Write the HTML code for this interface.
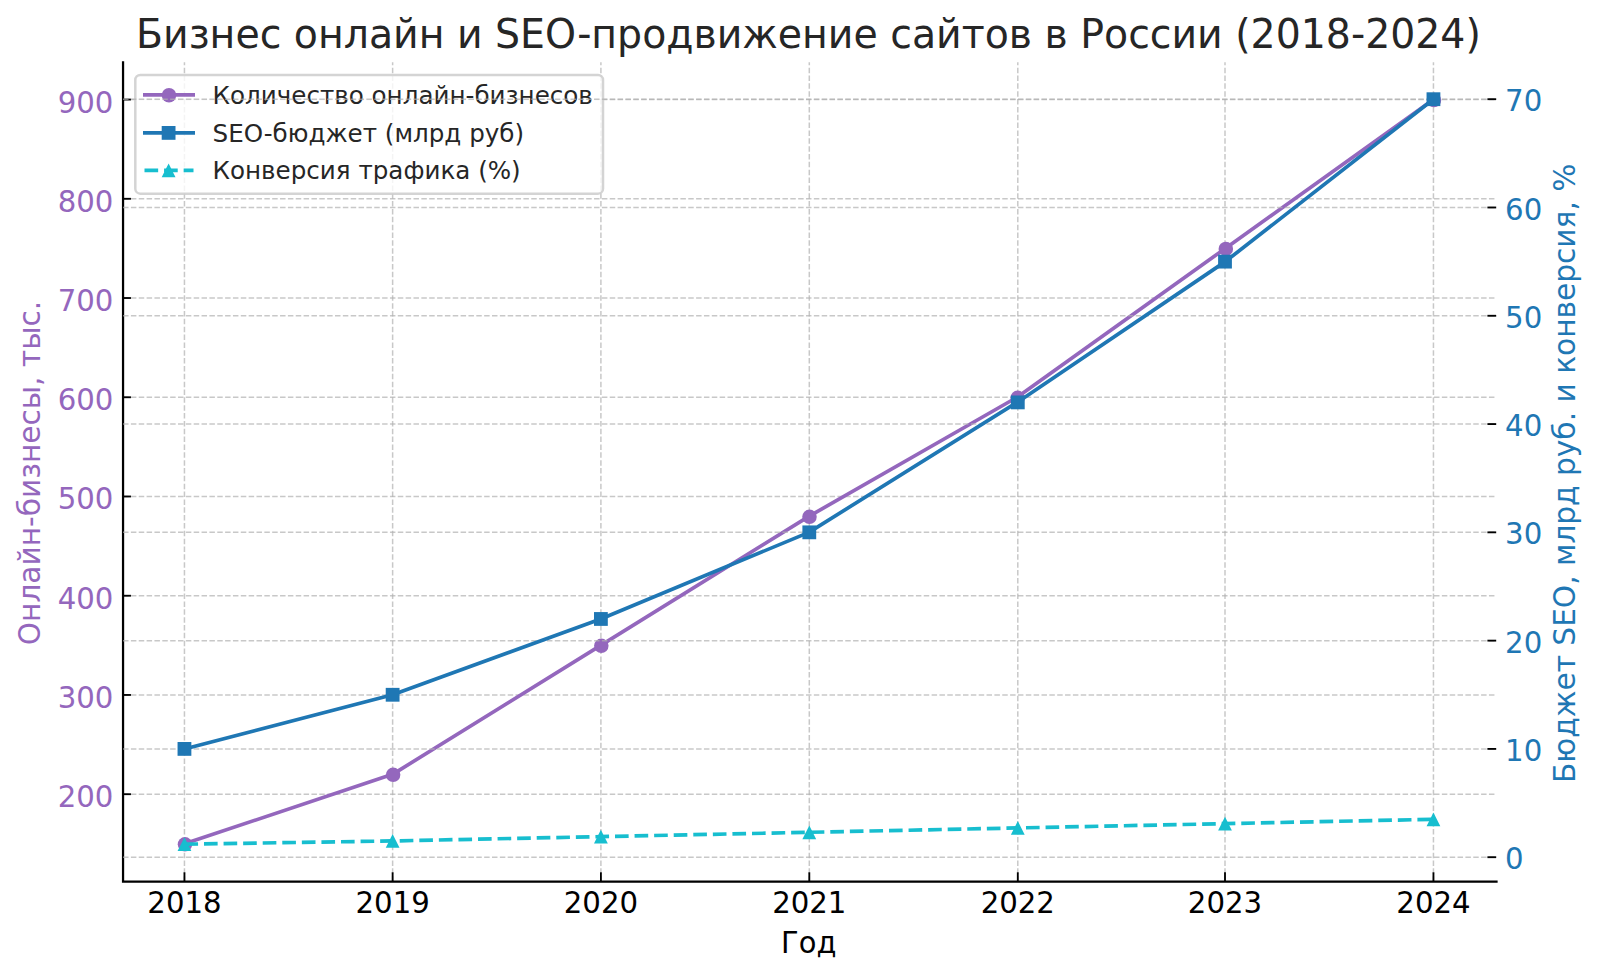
<!DOCTYPE html>
<html lang="ru"><head><meta charset="utf-8"><title>Бизнес онлайн и SEO-продвижение сайтов в России (2018-2024)</title>
<style>
html,body{margin:0;padding:0;background:#fff;}
body{width:1600px;height:976px;overflow:hidden;}
svg{display:block;}
text{font-family:"DejaVu Sans","Liberation Sans",sans-serif;}
</style></head><body>
<svg width="1600" height="976" viewBox="0 0 1600 976">
<rect width="1600" height="976" fill="#ffffff"/>
<!-- ax1 grid -->
<g stroke="#b0b0b0" stroke-opacity="0.7" stroke-width="1.5" stroke-dasharray="5.48 2.37" fill="none">
<line x1="184.45" y1="881.7" x2="184.45" y2="62.3"/>
<line x1="392.63" y1="881.7" x2="392.63" y2="62.3"/>
<line x1="600.90" y1="881.7" x2="600.90" y2="62.3"/>
<line x1="809.30" y1="881.7" x2="809.30" y2="62.3"/>
<line x1="1017.80" y1="881.7" x2="1017.80" y2="62.3"/>
<line x1="1225.00" y1="881.7" x2="1225.00" y2="62.3"/>
<line x1="1433.45" y1="881.7" x2="1433.45" y2="62.3"/>
<line x1="123.05" y1="794.20" x2="1496.5" y2="794.20"/>
<line x1="123.05" y1="694.96" x2="1496.5" y2="694.96"/>
<line x1="123.05" y1="595.73" x2="1496.5" y2="595.73"/>
<line x1="123.05" y1="496.49" x2="1496.5" y2="496.49"/>
<line x1="123.05" y1="397.26" x2="1496.5" y2="397.26"/>
<line x1="123.05" y1="298.02" x2="1496.5" y2="298.02"/>
<line x1="123.05" y1="198.79" x2="1496.5" y2="198.79"/>
<line x1="123.05" y1="99.55" x2="1496.5" y2="99.55"/>
</g>
<!-- ax1 series -->
<polyline points="184.42,843.82 392.59,774.35 600.76,645.35 808.93,516.34 1017.10,397.26 1225.27,248.40 1433.44,99.55" fill="none" stroke="#9467bd" stroke-width="3.68" stroke-linejoin="round"/>
<circle cx="184.97" cy="844.32" r="7.25" fill="#9467bd"/>
<circle cx="393.14" cy="774.85" r="7.25" fill="#9467bd"/>
<circle cx="601.31" cy="645.85" r="7.25" fill="#9467bd"/>
<circle cx="809.48" cy="516.84" r="7.25" fill="#9467bd"/>
<circle cx="1017.65" cy="397.76" r="7.25" fill="#9467bd"/>
<circle cx="1225.82" cy="248.90" r="7.25" fill="#9467bd"/>
<circle cx="1433.99" cy="100.05" r="7.25" fill="#9467bd"/>
<!-- ax1 spines, ticks -->
<path d="M123.05 62.3 L123.05 881.7 L1496.5 881.7" fill="none" stroke="#000" stroke-width="2.25" stroke-linecap="square" stroke-linejoin="miter"/>
<g stroke="#000" stroke-width="1.85">
<line x1="184.45" y1="881.7" x2="184.45" y2="872.3000000000001"/>
<line x1="392.63" y1="881.7" x2="392.63" y2="872.3000000000001"/>
<line x1="600.90" y1="881.7" x2="600.90" y2="872.3000000000001"/>
<line x1="809.30" y1="881.7" x2="809.30" y2="872.3000000000001"/>
<line x1="1017.80" y1="881.7" x2="1017.80" y2="872.3000000000001"/>
<line x1="1225.00" y1="881.7" x2="1225.00" y2="872.3000000000001"/>
<line x1="1433.45" y1="881.7" x2="1433.45" y2="872.3000000000001"/>
<line x1="123.05" y1="794.20" x2="130.95" y2="794.20"/>
<line x1="123.05" y1="694.96" x2="130.95" y2="694.96"/>
<line x1="123.05" y1="595.73" x2="130.95" y2="595.73"/>
<line x1="123.05" y1="496.49" x2="130.95" y2="496.49"/>
<line x1="123.05" y1="397.26" x2="130.95" y2="397.26"/>
<line x1="123.05" y1="298.02" x2="130.95" y2="298.02"/>
<line x1="123.05" y1="198.79" x2="130.95" y2="198.79"/>
<line x1="123.05" y1="99.55" x2="130.95" y2="99.55"/>
</g>
<!-- ax1 labels -->
<text transform="translate(184.45 913.30) scale(1.0 1.02)" font-size="29.2" fill="#000" text-anchor="middle">2018</text>
<text transform="translate(392.63 913.30) scale(1.0 1.02)" font-size="29.2" fill="#000" text-anchor="middle">2019</text>
<text transform="translate(600.90 913.30) scale(1.0 1.02)" font-size="29.2" fill="#000" text-anchor="middle">2020</text>
<text transform="translate(809.30 913.30) scale(1.0 1.02)" font-size="29.2" fill="#000" text-anchor="middle">2021</text>
<text transform="translate(1017.80 913.30) scale(1.0 1.02)" font-size="29.2" fill="#000" text-anchor="middle">2022</text>
<text transform="translate(1225.00 913.30) scale(1.0 1.02)" font-size="29.2" fill="#000" text-anchor="middle">2023</text>
<text transform="translate(1433.45 913.30) scale(1.0 1.02)" font-size="29.2" fill="#000" text-anchor="middle">2024</text>
<text transform="translate(113.40 807.20) scale(1.0 1.045)" font-size="29.2" fill="#9467bd" text-anchor="end">200</text>
<text transform="translate(113.40 707.96) scale(1.0 1.045)" font-size="29.2" fill="#9467bd" text-anchor="end">300</text>
<text transform="translate(113.40 608.73) scale(1.0 1.045)" font-size="29.2" fill="#9467bd" text-anchor="end">400</text>
<text transform="translate(113.40 509.49) scale(1.0 1.045)" font-size="29.2" fill="#9467bd" text-anchor="end">500</text>
<text transform="translate(113.40 410.26) scale(1.0 1.045)" font-size="29.2" fill="#9467bd" text-anchor="end">600</text>
<text transform="translate(113.40 311.02) scale(1.0 1.045)" font-size="29.2" fill="#9467bd" text-anchor="end">700</text>
<text transform="translate(113.40 211.79) scale(1.0 1.045)" font-size="29.2" fill="#9467bd" text-anchor="end">800</text>
<text transform="translate(113.40 112.55) scale(1.0 1.045)" font-size="29.2" fill="#9467bd" text-anchor="end">900</text>
<text transform="translate(808.80 953.00) scale(1.0 1.049)" font-size="28.95" fill="#000" text-anchor="middle">Год</text>
<text transform="translate(40.10 473.00) rotate(-90) scale(1.0 1.04)" font-size="29.6" fill="#9467bd" text-anchor="middle">Онлайн-бизнесы, тыс.</text>
<text transform="translate(808.40 48.40) scale(1.0 1.032)" font-size="39.42" fill="#262626" text-anchor="middle">Бизнес онлайн и SEO-продвижение сайтов в России (2018-2024)</text>
<!-- legend -->
<rect x="135.3" y="75.0" width="467.70" height="118.70" rx="5" ry="5" fill="#ffffff" fill-opacity="0.8" stroke="#cccccc" stroke-opacity="0.85" stroke-width="2.5"/>
<line x1="143.0" y1="94.8" x2="195.0" y2="94.8" stroke="#9467bd" stroke-width="3.68"/>
<circle cx="169.0" cy="95.25" r="7.25" fill="#9467bd"/>
<line x1="143.0" y1="132.9" x2="195.0" y2="132.9" stroke="#1f77b4" stroke-width="3.68"/>
<rect x="161.7" y="126.0" width="13.8" height="13.8" fill="#1f77b4"/>
<line x1="144.5" y1="170.3" x2="193.5" y2="170.3" stroke="#17becf" stroke-width="3.68" stroke-dasharray="13.65 5.925"/>
<path d="M168.60 163.40 L175.50 177.20 L161.70 177.20 Z" fill="#17becf"/>
<text transform="translate(212.55 103.60) scale(1.0 0.993)" font-size="24.6" fill="#262626" text-anchor="start">Количество онлайн-бизнесов</text>
<text transform="translate(212.55 141.70) scale(1.0 0.993)" font-size="24.6" fill="#262626" text-anchor="start">SEO-бюджет (млрд руб)</text>
<text transform="translate(212.55 179.10) scale(1.0 0.993)" font-size="24.6" fill="#262626" text-anchor="start">Конверсия трафика (%)</text>
<!-- ax2 grid -->
<g stroke="#b0b0b0" stroke-opacity="0.7" stroke-width="1.5" stroke-dasharray="5.48 2.37" fill="none">
<line x1="123.05" y1="857.20" x2="1496.5" y2="857.20"/>
<line x1="123.05" y1="748.91" x2="1496.5" y2="748.91"/>
<line x1="123.05" y1="640.63" x2="1496.5" y2="640.63"/>
<line x1="123.05" y1="532.34" x2="1496.5" y2="532.34"/>
<line x1="123.05" y1="424.06" x2="1496.5" y2="424.06"/>
<line x1="123.05" y1="315.77" x2="1496.5" y2="315.77"/>
<line x1="123.05" y1="207.49" x2="1496.5" y2="207.49"/>
<line x1="123.05" y1="99.20" x2="1496.5" y2="99.20"/>
</g>
<!-- ax2 series -->
<polyline points="184.42,748.91 392.59,694.77 600.76,618.97 808.93,532.34 1017.10,402.40 1225.27,261.63 1433.44,99.20" fill="none" stroke="#1f77b4" stroke-width="3.68" stroke-linejoin="round"/>
<rect x="177.55" y="742.01" width="13.8" height="13.8" fill="#1f77b4"/>
<rect x="385.73" y="687.87" width="13.8" height="13.8" fill="#1f77b4"/>
<rect x="594.00" y="612.07" width="13.8" height="13.8" fill="#1f77b4"/>
<rect x="802.40" y="525.44" width="13.8" height="13.8" fill="#1f77b4"/>
<rect x="1010.90" y="395.50" width="13.8" height="13.8" fill="#1f77b4"/>
<rect x="1218.10" y="254.73" width="13.8" height="13.8" fill="#1f77b4"/>
<rect x="1426.55" y="92.30" width="13.8" height="13.8" fill="#1f77b4"/>
<polyline points="184.42,844.21 392.59,840.96 600.76,836.63 808.93,832.29 1017.10,827.96 1225.27,823.63 1433.44,819.30" fill="none" stroke="#17becf" stroke-width="3.68" stroke-dasharray="13.65 5.925" stroke-linejoin="round"/>
<path d="M184.45 837.31 L191.35 851.11 L177.55 851.11 Z" fill="#17becf"/>
<path d="M392.63 834.06 L399.53 847.86 L385.73 847.86 Z" fill="#17becf"/>
<path d="M600.90 829.73 L607.80 843.53 L594.00 843.53 Z" fill="#17becf"/>
<path d="M809.30 825.39 L816.20 839.19 L802.40 839.19 Z" fill="#17becf"/>
<path d="M1017.80 821.06 L1024.70 834.86 L1010.90 834.86 Z" fill="#17becf"/>
<path d="M1225.00 816.73 L1231.90 830.53 L1218.10 830.53 Z" fill="#17becf"/>
<path d="M1433.45 812.40 L1440.35 826.20 L1426.55 826.20 Z" fill="#17becf"/>
<!-- ax2 ticks, labels -->
<g stroke="#000" stroke-width="1.85">
<line x1="1496.2" y1="857.20" x2="1487.4" y2="857.20"/>
<line x1="1496.2" y1="748.91" x2="1487.4" y2="748.91"/>
<line x1="1496.2" y1="640.63" x2="1487.4" y2="640.63"/>
<line x1="1496.2" y1="532.34" x2="1487.4" y2="532.34"/>
<line x1="1496.2" y1="424.06" x2="1487.4" y2="424.06"/>
<line x1="1496.2" y1="315.77" x2="1487.4" y2="315.77"/>
<line x1="1496.2" y1="207.49" x2="1487.4" y2="207.49"/>
<line x1="1496.2" y1="99.20" x2="1487.4" y2="99.20"/>
</g>
<text transform="translate(1505.10 869.30) scale(1.0 1.04)" font-size="29.2" fill="#1f77b4" text-anchor="start">0</text>
<text transform="translate(1505.10 761.01) scale(1.0 1.04)" font-size="29.2" fill="#1f77b4" text-anchor="start">10</text>
<text transform="translate(1505.10 652.73) scale(1.0 1.04)" font-size="29.2" fill="#1f77b4" text-anchor="start">20</text>
<text transform="translate(1505.10 544.44) scale(1.0 1.04)" font-size="29.2" fill="#1f77b4" text-anchor="start">30</text>
<text transform="translate(1505.10 436.16) scale(1.0 1.04)" font-size="29.2" fill="#1f77b4" text-anchor="start">40</text>
<text transform="translate(1505.10 327.87) scale(1.0 1.04)" font-size="29.2" fill="#1f77b4" text-anchor="start">50</text>
<text transform="translate(1505.10 219.59) scale(1.0 1.04)" font-size="29.2" fill="#1f77b4" text-anchor="start">60</text>
<text transform="translate(1505.10 111.30) scale(1.0 1.04)" font-size="29.2" fill="#1f77b4" text-anchor="start">70</text>
<text transform="translate(1574.60 473.30) rotate(-90) scale(1.0 1.03)" font-size="29.64" fill="#1f77b4" text-anchor="middle">Бюджет SEO, млрд руб. и конверсия, %</text>
</svg></body></html>
